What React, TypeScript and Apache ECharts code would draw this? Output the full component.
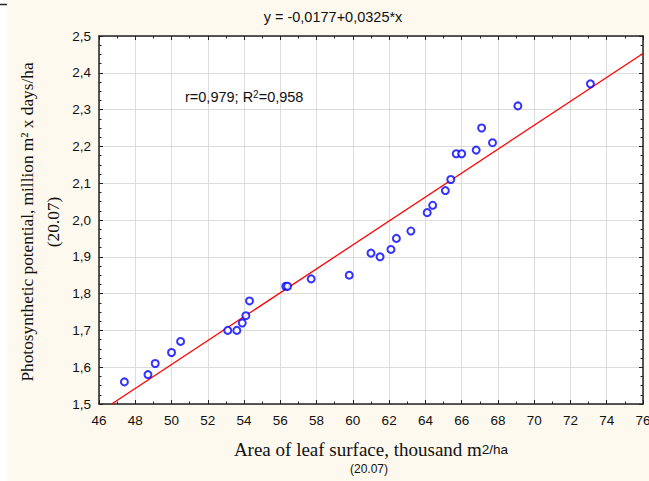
import React, { useEffect, useRef } from "react";
import * as echarts from "echarts";

const leafArea: number[] = [47.4, 48.7, 49.1, 50.0, 50.5, 53.1, 53.6, 53.9, 54.1, 54.3, 56.3, 56.4, 57.7, 59.8, 61.0, 61.5, 62.1, 62.4, 63.2, 64.1, 64.4, 65.1, 65.4, 65.7, 66.0, 66.8, 67.1, 67.7, 69.1, 73.1];
const photoPotential: number[] = [1.56, 1.58, 1.61, 1.64, 1.67, 1.70, 1.70, 1.72, 1.74, 1.78, 1.82, 1.82, 1.84, 1.85, 1.91, 1.90, 1.92, 1.95, 1.97, 2.02, 2.04, 2.08, 2.11, 2.18, 2.18, 2.19, 2.25, 2.21, 2.31, 2.37];
const intercept = -0.0177;
const slope = 0.0325;
const xRange = [46, 76];
const yRange = [1.5, 2.5];

const SANS = "'Liberation Sans', Arial, sans-serif";
const SERIF = "'Liberation Serif', 'Times New Roman', serif";

export default function App() {
  const ref = useRef<HTMLDivElement>(null);
  useEffect(() => {
    if (!ref.current) return;
    const chart = echarts.init(ref.current, null, { renderer: "svg" });
    const pts = leafArea.map((x, i) => [x, photoPotential[i]]);
    const xStart = (yRange[0] - intercept) / slope;
    const linePts = [
      [xStart, intercept + slope * xStart],
      [xRange[1], intercept + slope * xRange[1]],
    ];
    const axisLine = { show: true, lineStyle: { color: "#222", width: 1.5 } };
    const xCommon = {
      type: "value",
      min: xRange[0],
      max: xRange[1],
      interval: 2,
      axisLine,
      axisTick: { show: true, inside: true, length: 4, lineStyle: { color: "#222" } },
      minorTick: { show: true, splitNumber: 2, length: 2.5, lineStyle: { color: "#222" } },
    };
    const yCommon = {
      type: "value",
      min: yRange[0],
      max: yRange[1],
      interval: 0.1,
      axisLine,
      axisTick: { show: true, inside: true, length: 4, lineStyle: { color: "#222" } },
      minorTick: { show: true, splitNumber: 4, length: 2.5, lineStyle: { color: "#222" } },
    };
    chart.setOption({
      animation: false,
      backgroundColor: "#FEF9EE",
      grid: {
        left: 99,
        top: 36,
        right: 6,
        bottom: 77,
        show: true,
        backgroundColor: "#ffffff",
        borderWidth: 0,
        containLabel: false,
        outerBoundsMode: "none",
      },
      xAxis: [
        {
          ...xCommon,
          position: "bottom",
          axisLabel: { fontFamily: SANS, fontSize: 13.5, color: "#111", margin: 9 },
          splitLine: { show: true, lineStyle: { color: "#dcdcdc", width: 1 } },
        },
        {
          ...xCommon,
          position: "top",
          axisLabel: { show: false },
          splitLine: { show: false },
        },
      ],
      yAxis: [
        {
          ...yCommon,
          position: "left",
          axisLabel: {
            fontFamily: SANS,
            fontSize: 13.5,
            color: "#111",
            margin: 8,
            formatter: (v: number) => v.toFixed(1).replace(".", ","),
          },
          splitLine: { show: true, lineStyle: { color: "#dcdcdc", width: 1 } },
        },
        {
          ...yCommon,
          position: "right",
          axisLabel: { show: false },
          splitLine: { show: false },
        },
      ],
      series: [
        {
          type: "line",
          data: linePts,
          xAxisIndex: 0,
          yAxisIndex: 0,
          showSymbol: false,
          symbol: "none",
          lineStyle: { color: "#ff0000", width: 1.3 },
          clip: true,
          z: 2,
        },
        {
          type: "scatter",
          data: pts,
          xAxisIndex: 0,
          yAxisIndex: 0,
          symbol: "emptyCircle",
          symbolSize: 7,
          itemStyle: { color: "#0000ff", borderColor: "#0000ff", borderWidth: 1.5 },
          z: 3,
        },
      ],
      graphic: [
        { type: "rect", left: 0, top: 0, shape: { width: 7, height: 481 }, style: { fill: "#ffffff" }, silent: true },
        { type: "line", shape: { x1: 0, y1: 4.5, x2: 7, y2: 4.5 }, style: { stroke: "#222", lineWidth: 1.5 }, silent: true },
        {
          type: "text",
          x: 333,
          y: 17,
          z: 100,
          style: {
            text: "y = -0,0177+0,0325*x",
            font: `14.5px ${SANS}`,
            fill: "#111",
            textAlign: "center",
            textVerticalAlign: "middle",
          },
        },
        {
          type: "text",
          x: 185,
          y: 97,
          z: 100,
          style: {
            text: "{a|r=0,979; R}{s|2}{a|=0,958}",
            rich: {
              a: { fontFamily: SANS, fontSize: 14.5, fill: "#111" },
              s: { fontFamily: SANS, fontSize: 10, fill: "#111", verticalAlign: "top", padding: [0, 0, 6, 0] },
            },
            textAlign: "left",
            textVerticalAlign: "middle",
          },
        },
        {
          type: "text",
          x: 27,
          y: 222,
          rotation: Math.PI / 2,
          z: 100,
          style: {
            text: "Photosynthetic potential, million m² x days/ha",
            font: `17.3px ${SERIF}`,
            fill: "#111",
            textAlign: "center",
            textVerticalAlign: "middle",
          },
        },
        {
          type: "text",
          x: 53,
          y: 222,
          rotation: Math.PI / 2,
          z: 100,
          style: {
            text: "(20.07)",
            font: `17.3px ${SERIF}`,
            fill: "#111",
            textAlign: "center",
            textVerticalAlign: "middle",
          },
        },
        {
          type: "text",
          x: 371,
          y: 449,
          z: 100,
          style: {
            text: "{a|Area of leaf surface, thousand m}{b|2/ha}",
            rich: {
              a: { fontFamily: SERIF, fontSize: 19, fill: "#111" },
              b: { fontFamily: SANS, fontSize: 13.5, fill: "#111", verticalAlign: "middle" },
            },
            textAlign: "center",
            textVerticalAlign: "middle",
          },
        },
        {
          type: "text",
          x: 369,
          y: 469,
          z: 100,
          style: {
            text: "(20.07)",
            font: `12px ${SANS}`,
            fill: "#111",
            textAlign: "center",
            textVerticalAlign: "middle",
          },
        },
      ],
    });
    return () => chart.dispose();
  }, []);
  return <div ref={ref} style={{ position: "absolute", left: 0, top: 0, width: 649, height: 481 }} />;
}
